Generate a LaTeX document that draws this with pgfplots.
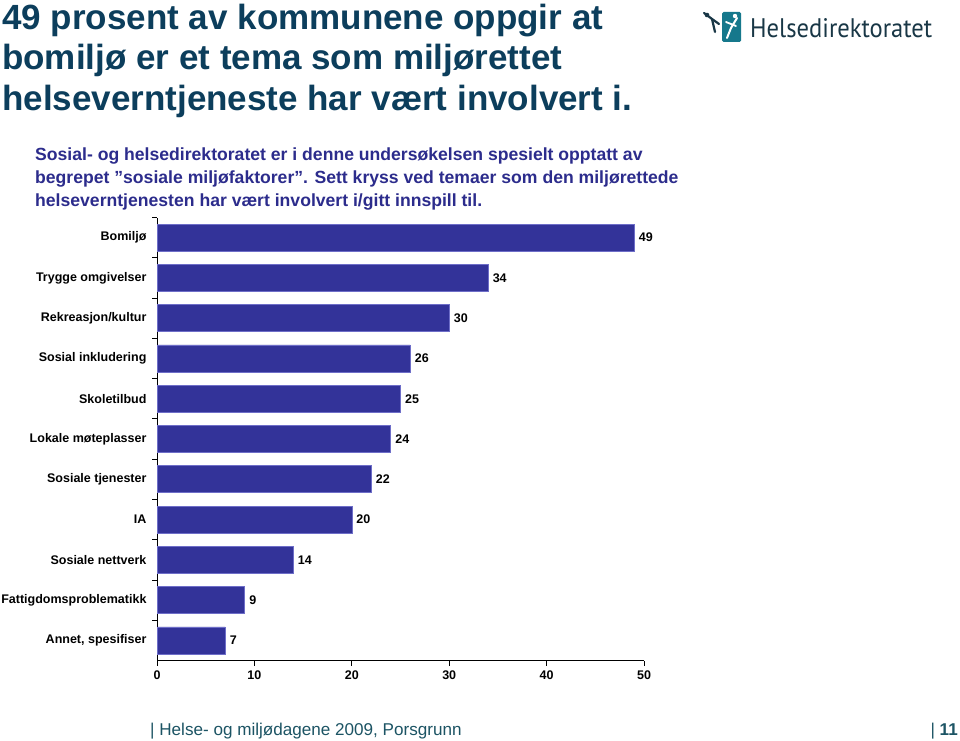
\documentclass[border=0pt]{standalone}
\usepackage{graphicx}
\usepackage{pgfplots}
\pgfplotsset{compat=1.18}
\usepackage{fontspec}
\setmainfont{Liberation Sans}
\newfontfamily\logofont{PT Sans}
\definecolor{titlecol}{RGB}{12,62,92}
\definecolor{subcol}{RGB}{44,44,140}
\definecolor{barcol}{RGB}{51,51,153}
\definecolor{baredge}{RGB}{110,110,200}
\definecolor{footcol}{RGB}{28,84,100}
\definecolor{logoteal}{RGB}{22,120,140}
\definecolor{logotext}{RGB}{25,55,70}
\begin{document}
\begin{tikzpicture}[x=1pt,y=1pt]
\useasboundingbox (0,0) rectangle (960,740);
\fill[white] (0,0) rectangle (960,740);
% title
\begin{scope}[every node/.style={anchor=base west, inner sep=0pt, text=titlecol, font=\fontsize{35}{40}\selectfont\bfseries}]
\node at (2,710) {49 prosent av kommunene oppgir at};
\node at (2,670) {bomiljø er et tema som miljørettet};
\node at (2,629) {helseverntjeneste har vært involvert i.};
\end{scope}
% subtitle
\begin{scope}[every node/.style={anchor=base west, inner sep=0pt, text=subcol, font=\fontsize{17.6}{21}\selectfont\bfseries}]
\node at (35,579) {Sosial- og helsedirektoratet er i denne undersøkelsen spesielt opptatt av};
\node at (35,556) {begrepet ”sosiale miljøfaktorer”. Sett kryss ved temaer som den miljørettede};
\node at (35,533) {helseverntjenesten har vært involvert i/gitt innspill til.};
\end{scope}
% logo
\fill[logoteal, rounded corners=1.5pt] (722,698) rectangle (741,728);
\draw[white, line width=2pt, line cap=round] (727,702) -- (731,712) -- (737,722);
\draw[white, line width=1.8pt, line cap=round] (726,718) -- (736,714);
\fill[white] (735,724) circle (2.2);
\fill[logotext] (707,725) circle (2.3);
\draw[logotext, line width=2.2pt, line cap=round] (704,727) -- (712,721) -- (719,716);
\draw[logotext, line width=2.2pt, line cap=round] (712,721) -- (715,708);
\node[anchor=base west, inner sep=0pt, text=logotext] at (750,702) {\resizebox{182pt}{19pt}{\logofont Helsedirektoratet}};
% footer
\node[anchor=base west, inner sep=0pt, text=footcol, font=\fontsize{17.1}{20}\selectfont] at (150,5) {| Helse- og miljødagene 2009, Porsgrunn};
\node[anchor=base east, inner sep=0pt, text=footcol, font=\fontsize{17.1}{20}\selectfont] at (958,5) {| \textbf{11}};
% chart
\begin{axis}[
  at={(157pt,79.5pt)}, anchor=south west,
  scale only axis, width=487pt, height=443pt,
  xmin=0, xmax=50, ymin=-0.5, ymax=10.5,
  xbar, bar width=27pt,
  axis x line*=bottom, axis y line*=left,
  axis line style={black, line width=0.8pt},
  tick align=outside, major tick length=5pt,
  tick style={black, line width=0.8pt},
  xtick={0,10,...,50},
  ytick={0.5,1.5,...,10.5},
  yticklabels={{Annet, spesifiser},Fattigdomsproblematikk,Sosiale nettverk,IA,Sosiale tjenester,Lokale møteplasser,Skoletilbud,Sosial inkludering,Rekreasjon/kultur,Trygge omgivelser,Bomiljø},
  yticklabel style={font=\fontsize{12.5}{15}\selectfont\bfseries, yshift=-20.14pt, xshift=-2pt},
  xticklabel style={font=\fontsize{12.5}{15}\selectfont\bfseries, yshift=-2pt},
  /pgf/number format/assume math mode=true,
  nodes near coords,
  nodes near coords style={font=\fontsize{12.5}{14}\selectfont\bfseries, black, xshift=1pt},
  clip=false,
]
\addplot[fill=barcol, draw=baredge, line width=0.6pt] coordinates {
(7,0) (9,1) (14,2) (20,3) (22,4) (24,5) (25,6) (26,7) (30,8) (34,9) (49,10)};
\end{axis}
\end{tikzpicture}
\end{document}
